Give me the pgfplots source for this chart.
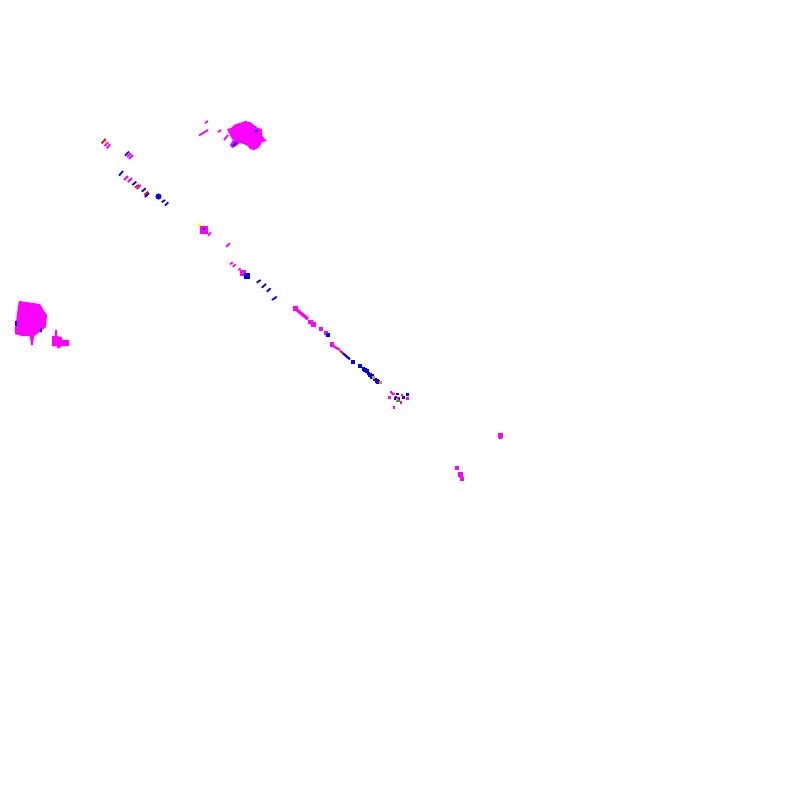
\documentclass[border=0pt]{standalone}
\usepackage{pgfplots}
\pgfplotsset{compat=1.18}
\definecolor{mg}{HTML}{FF00FF}
\definecolor{bl}{HTML}{0000FF}
\definecolor{rd}{HTML}{FF0000}
\definecolor{yl}{HTML}{FFFF00}
\definecolor{og}{HTML}{FF8C00}
\definecolor{gr}{HTML}{00C000}
\begin{document}
\begin{tikzpicture}
\begin{axis}[
  scale only axis, width=400pt, height=400pt,
  xmin=0, xmax=800, ymin=0, ymax=800, y dir=reverse,
  hide axis, clip=false,
  unbounded coords=jump,
  dash/.style={no marks, line width=0.9pt},
  dots/.style={only marks, mark=square*, mark options={draw=none}},
]
% blobs
\addplot[fill=mg, draw=none] coordinates {
  (19,301)(40,304)(44,311)(47,315)(46,327)(42,330)(37,334)(34,336)(33,345)
  (31,345)(30,336)(22,336)(15,334)(15,328)(16,322)(17,314)(18,306)} -- cycle;
\addplot[fill=mg, draw=none] coordinates {
  (55,330)(57,330)(57,336)(62,337)(62,340)(69,340)(69,346)(61,346)(60,348)
  (57,348)(57,346)(52,346)(52,336)(55,336)} -- cycle;
\addplot[fill=mg, draw=none] coordinates {
  (240,123)(245,121)(250,122)(254,125)(258,128)(262,129)(262,135)(264,138)
  (267,141)(262,142)(260,146)(258,148)(254,150)(250,149)(248,146)(244,144)
  (240,143)(236,146)(232,148)(230,145)(233,140)(231,137)(229,133)(227,129)
  (231,128)(234,125)(236,124)} -- cycle;
% short dashes
\addplot[mg, dash] coordinates {
  (104.3,146)(108.3,142.3) (nan,nan) (106.7,148.3)(110.3,144.3) (nan,nan)
  (127,157)(131,153.3) (nan,nan) (129,159)(133,155) (nan,nan)
  (124,180)(128,176) (nan,nan) (128,182)(132,178) (nan,nan)
  (136.7,189)(141,185) (nan,nan) (208,235.7)(211,232.3) (nan,nan)
  (226,246.7)(230,243.3) (nan,nan) (230,264.3)(232.7,262.3) (nan,nan)
  (232.7,266.7)(235.7,264.3) (nan,nan) (238.3,270)(240.7,268.3) (nan,nan)
  (205,123)(208,121) (nan,nan) (199,135.5)(208,130) (nan,nan)
  (218,132)(221,130) (nan,nan) (224,140)(228,135)};
\addplot[bl, dash] coordinates {
  (125,155.7)(129,151.7) (nan,nan) (119,175.7)(123,171) (nan,nan)
  (132.3,185)(136.3,181.7) (nan,nan) (141.7,191.7)(145.7,188.3) (nan,nan)
  (145,197)(149,193) (nan,nan) (161.7,202.3)(165,200) (nan,nan)
  (165,205.7)(168.3,202.3) (nan,nan) (233,146)(237,142) (nan,nan)
  (255,131.5)(258,130.5) (nan,nan) (256.7,282.7)(260.7,280) (nan,nan)
  (261.7,287.7)(266,284) (nan,nan) (266.7,291.7)(270.7,288.3) (nan,nan)
  (272,300)(276.7,296.7) (nan,nan) (16,321)(16,326) (nan,nan) (41,328)(41,332)};
\addplot[rd, dash] coordinates {
  (101.7,143.3)(105.7,139) (nan,nan) (135,187.3)(139,185) (nan,nan)
  (144.3,195)(148.3,191.7)};
\addplot[yl, dash] coordinates {(198,226.7)(200.7,223.3)};
% bands along the diagonal
\addplot[mg, no marks, line width=1.6pt] coordinates {(297,310)(308,319)};
\addplot[mg, no marks, line width=1.1pt] coordinates {(333.3,346)(340,350)};
\addplot[rd, no marks, line width=1pt] coordinates {(340,351)(343,353)};
\addplot[bl, no marks, line width=1.1pt] coordinates {(343,353.3)(350,359.3)};
% larger dots
\addplot[mg, dots, mark size=1.8pt] coordinates {(203.5,229.5)};
\addplot[bl, dots, mark size=0.4pt] coordinates {(204,229)};
\addplot[mg, dots, mark size=1.1pt] coordinates {(243,273)};
\addplot[bl, mark=*, only marks, mark options={draw=none}, mark size=1.3pt] coordinates {(158.5,196.5)};
\addplot[bl, dots, mark size=1.2pt] coordinates {(246.5,275.5)};
% small squares
\addplot[mg, dots, mark size=0.85pt] coordinates {
  (295.3,308.5)(310.5,322)(313.3,324.3)(321,329)(326,333)(332,344.5)
  (500.5,435.3)(456.8,468)(460.2,474.3)(462,478.7)};
\addplot[mg, dots, mark size=0.5pt] coordinates {(500,437.7)(461,475.5)};
\addplot[bl, dots, mark size=0.7pt] coordinates {
  (328,335)(353,362)(360,366)(363.3,369)(365,370)(366.7,371)
  (368.3,373.3)(370,374.5)(371.7,376)(372,377)(375,379.3)(376.7,380.7)(378,382)};
\addplot[og, dots, mark size=0.5pt] coordinates {(373.8,377.5)(380,382.5)};
% scattered cluster
\addplot[mg, dots, mark size=0.3pt] coordinates {
  (390.7,391.7)(391.7,392.7)(393.3,394)(401.7,395)(389.3,397.3)(407.3,398.3)
  (396.7,401)(400.7,402.3)(394,407.3)(398.3,398)};
\addplot[bl, dots, mark size=0.3pt] coordinates {
  (397.3,394)(407.3,394.3)(396,396.7)(403.3,397.3)(395,398.3)(399,398.5)};
\addplot[og, dots, mark size=0.3pt] coordinates {(397.3,400)};
\addplot[gr, dots, mark size=0.3pt] coordinates {(398.3,400.7)};
\path (axis cs:0,0) rectangle (axis cs:800,800);
\end{axis}
\end{tikzpicture}
\end{document}
